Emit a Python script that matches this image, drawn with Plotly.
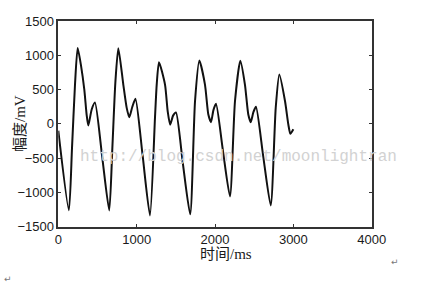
import plotly.graph_objects as go

# Time (ms) and amplitude (mV)
time_ms = [0, 135, 175, 213, 247, 290, 332, 362, 383, 426, 468, 560, 650,
           690, 728, 766, 830, 873, 906, 945, 985, 1075, 1170,
           1234, 1256, 1285, 1362, 1396, 1428, 1465, 1502, 1590, 1683,
           1745, 1800, 1872, 1915, 1949, 1980, 2013, 2100, 2191,
           2255, 2323, 2382, 2425, 2456, 2490, 2523, 2615, 2711,
           2775, 2821, 2894, 2936, 2962, 3000]
amp_mv = [-100, -1260, -350, 570, 1108, 850, 500, 130, -25, 210, 310, -480, -1262,
          -350, 600, 1104, 570, 233, 95, 250, 365, -450, -1335,
          87, 573, 900, 573, 185, -12, 120, 165, -580, -1320,
          330, 923, 573, 136, 25, 200, 292, -380, -1058,
          330, 921, 573, 136, 25, 170, 248, -470, -1190,
          233, 720, 330, -10, -146, -80]

x_ticks = [0, 1000, 2000, 3000, 4000]
y_ticks = [-1500, -1000, -500, 0, 500, 1000, 1500]
x_title = "时间/ms"
y_title = "幅度/mV"
watermark = "http://blog.csdn.net/moonlightran"

W, H = 440, 290

fig = go.Figure()
fig.add_trace(go.Scatter(x=time_ms, y=amp_mv, mode="lines",
                         line=dict(color="#111111", width=2, shape="spline", smoothing=0.6),
                         hoverinfo="skip", showlegend=False))

axis_common = dict(showline=True, linecolor="#333333", linewidth=1.5, mirror="ticks",
                   ticks="inside", ticklen=3, tickwidth=1, tickcolor="#333333",
                   showgrid=False, zeroline=False, automargin=False,
                   tickfont=dict(family="Liberation Sans, Arial, sans-serif", size=13, color="#1a1a1a"))

fig.update_layout(
    width=W, height=H, margin=dict(l=0, r=0, t=0, b=0, pad=0, autoexpand=False),
    paper_bgcolor="white", plot_bgcolor="white",
    xaxis=dict(range=[0, 4000], tickvals=x_ticks, domain=[58.3/W, 371.7/W], **axis_common),
    yaxis=dict(range=[-1500, 1500], tickvals=y_ticks, domain=[1-226.7/H, 1-21/H], **axis_common),
)

def px_ann(text, x, y, size, family, color, angle=0):
    fig.add_annotation(text=text, xref="paper", yref="paper", x=x/W, y=1-y/H,
                       xanchor="center", yanchor="middle", textangle=angle,
                       showarrow=False, font=dict(family=family, size=size, color=color))

px_ann(x_title, 226, 254, 15, "Liberation Serif, Noto Sans CJK SC", "#1a1a1a")
px_ann(y_title, 20, 124, 15, "Liberation Serif, Noto Sans CJK SC", "#1a1a1a", -90)
px_ann(watermark, 238, 157, 16, "Liberation Mono, DejaVu Sans Mono, monospace", "#d2d2d2")
px_ann("↵", 8, 279, 9, "DejaVu Sans", "#777777")
px_ann("↵", 395, 262, 9, "DejaVu Sans", "#777777")

fig.write_html("out.html")
